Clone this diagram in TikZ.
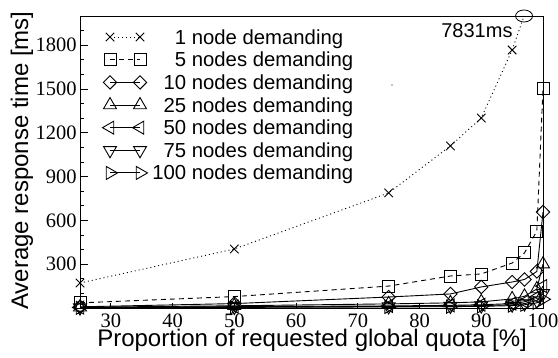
\documentclass[tikz,border=0pt]{standalone}
\usepackage{fontspec}
\setmainfont{Liberation Serif}
\setsansfont{Liberation Sans}
\usetikzlibrary{plotmarks}

\begin{document}
\begin{tikzpicture}[x=6.173bp,y=0.146bp,line width=0.8bp,
    ticklabel/.style={font=\fontsize{20.5bp}{24bp}\selectfont,inner sep=0pt},
    keytext/.style={font=\sffamily\fontsize{20.3bp}{24bp}\selectfont,anchor=base west,inner sep=0pt,yshift=-7bp},
    axislabel/.style={font=\sffamily\fontsize{24bp}{28bp}\selectfont,inner sep=0pt,anchor=base},
    series/.style={line width=0.9bp,mark size=6bp},
    dotline/.style={line width=0.9bp,dash pattern=on 1bp off 3bp},
    s1/.style={series,dotline,mark=x,mark options={solid}},
    s5/.style={series,dash pattern=on 5bp off 4bp,mark=square,mark options={solid}},
    s10/.style={series,mark=diamond,mark size=6.7bp,mark options={xscale=1.33}},
    s25/.style={series,mark=triangle,mark size=7.5bp},
    s50/.style={series,mark=triangle,mark size=7.5bp,mark options={rotate=90}},
    s75/.style={series,mark=triangle,mark size=7.5bp,mark options={rotate=180}},
    s100/.style={series,mark=triangle,mark size=7.5bp,mark options={rotate=-90}}]
    \useasboundingbox (12.04,-342.5) rectangle (102.43,2109.6);
    %% frame
    \draw (25,0) rectangle (100,2000);
    %% x ticks
    \foreach \v in {30,40,...,100} {
        \draw (\v,0) -- ++(0,5bp);
        \node[ticklabel,anchor=north,yshift=-5bp] (xt\v) at (\v,0) {\v};
    }
    %% y ticks
    \foreach \v in {100,200,...,1900}
        \draw (25,\v) -- ++(4bp,0);
    \foreach \v in {300,600,...,1800} {
        \draw (25,\v) -- ++(8bp,0);
        \node[ticklabel,anchor=east,xshift=-3bp] (yt\v) at (25,\v) {\v};
    }
    %% axis labels
    \node[axislabel] (xlabel) at (62.6,-267) {Proportion of requested global quota [\%]};
    \node[axislabel,rotate=90] (ylabel) at (16.6,1010) {Average response time [ms]};
    %% data
    \draw[s100] plot coordinates {(25,1) (50,4) (75,7) (85,9) (90,11) (95,16) (97,22) (99,35) (100,60)};
    \draw[s75] plot coordinates {(25,2) (50,6) (75,10) (85,13) (90,16) (95,22) (97,30) (99,50) (100,100)};
    \draw[s50] plot coordinates {(25,3) (50,9) (75,14) (85,18) (90,22) (95,30) (97,42) (99,75) (100,150)};
    \draw[s25] plot coordinates {(25,5) (50,15) (75,28) (85,35) (90,42) (95,62) (97,80) (99,130) (100,300)};
    \draw[s10] plot coordinates {(25,8) (50,30) (75,75) (85,96) (90,144) (95,178) (97,195) (99,250) (100,657)};
    \draw[s5] plot coordinates {(25,35) (50,78) (75,150) (85,219) (90,233) (95,308) (97,377) (99,527) (100,1507)};
    \draw[s1] plot coordinates {(25,171) (50,404) (75,788) (85,1110) (90,1301) (95,1767)};
    \draw[dotline] (95,1767) -- (96.93,2000);
    %% off-scale value
    \draw (96.93,2000) ellipse [x radius=8.5bp,y radius=6bp];
    \node[axislabel,font=\sffamily\fontsize{20bp}{24bp}\selectfont] (peak) at (89.3,1856) {7831ms};
    \fill (75.54,1527) circle [radius=0.6bp];
    %% key
    \draw[s1] plot coordinates {(29.86,1856) (34.72,1856)};
    \node[keytext] (key1) at (36.66,1856) {\phantom{00}1 node demanding};
    \draw[s5] plot coordinates {(29.86,1700) (34.72,1700)};
    \node[keytext] (key5) at (36.66,1700) {\phantom{00}5 nodes demanding};
    \draw[s10] plot coordinates {(29.86,1545) (34.72,1545)};
    \node[keytext] (key10) at (36.66,1545) {\phantom{0}10 nodes demanding};
    \draw[s25] plot coordinates {(29.86,1390) (34.72,1390)};
    \node[keytext] (key25) at (36.66,1390) {\phantom{0}25 nodes demanding};
    \draw[s50] plot coordinates {(29.86,1235) (34.72,1235)};
    \node[keytext] (key50) at (36.66,1235) {\phantom{0}50 nodes demanding};
    \draw[s75] plot coordinates {(29.86,1080) (34.72,1080)};
    \node[keytext] (key75) at (36.66,1080) {\phantom{0}75 nodes demanding};
    \draw[s100] plot coordinates {(29.86,925) (34.72,925)};
    \node[keytext] (key100) at (36.66,925) {100 nodes demanding};
\end{tikzpicture}
\end{document}
